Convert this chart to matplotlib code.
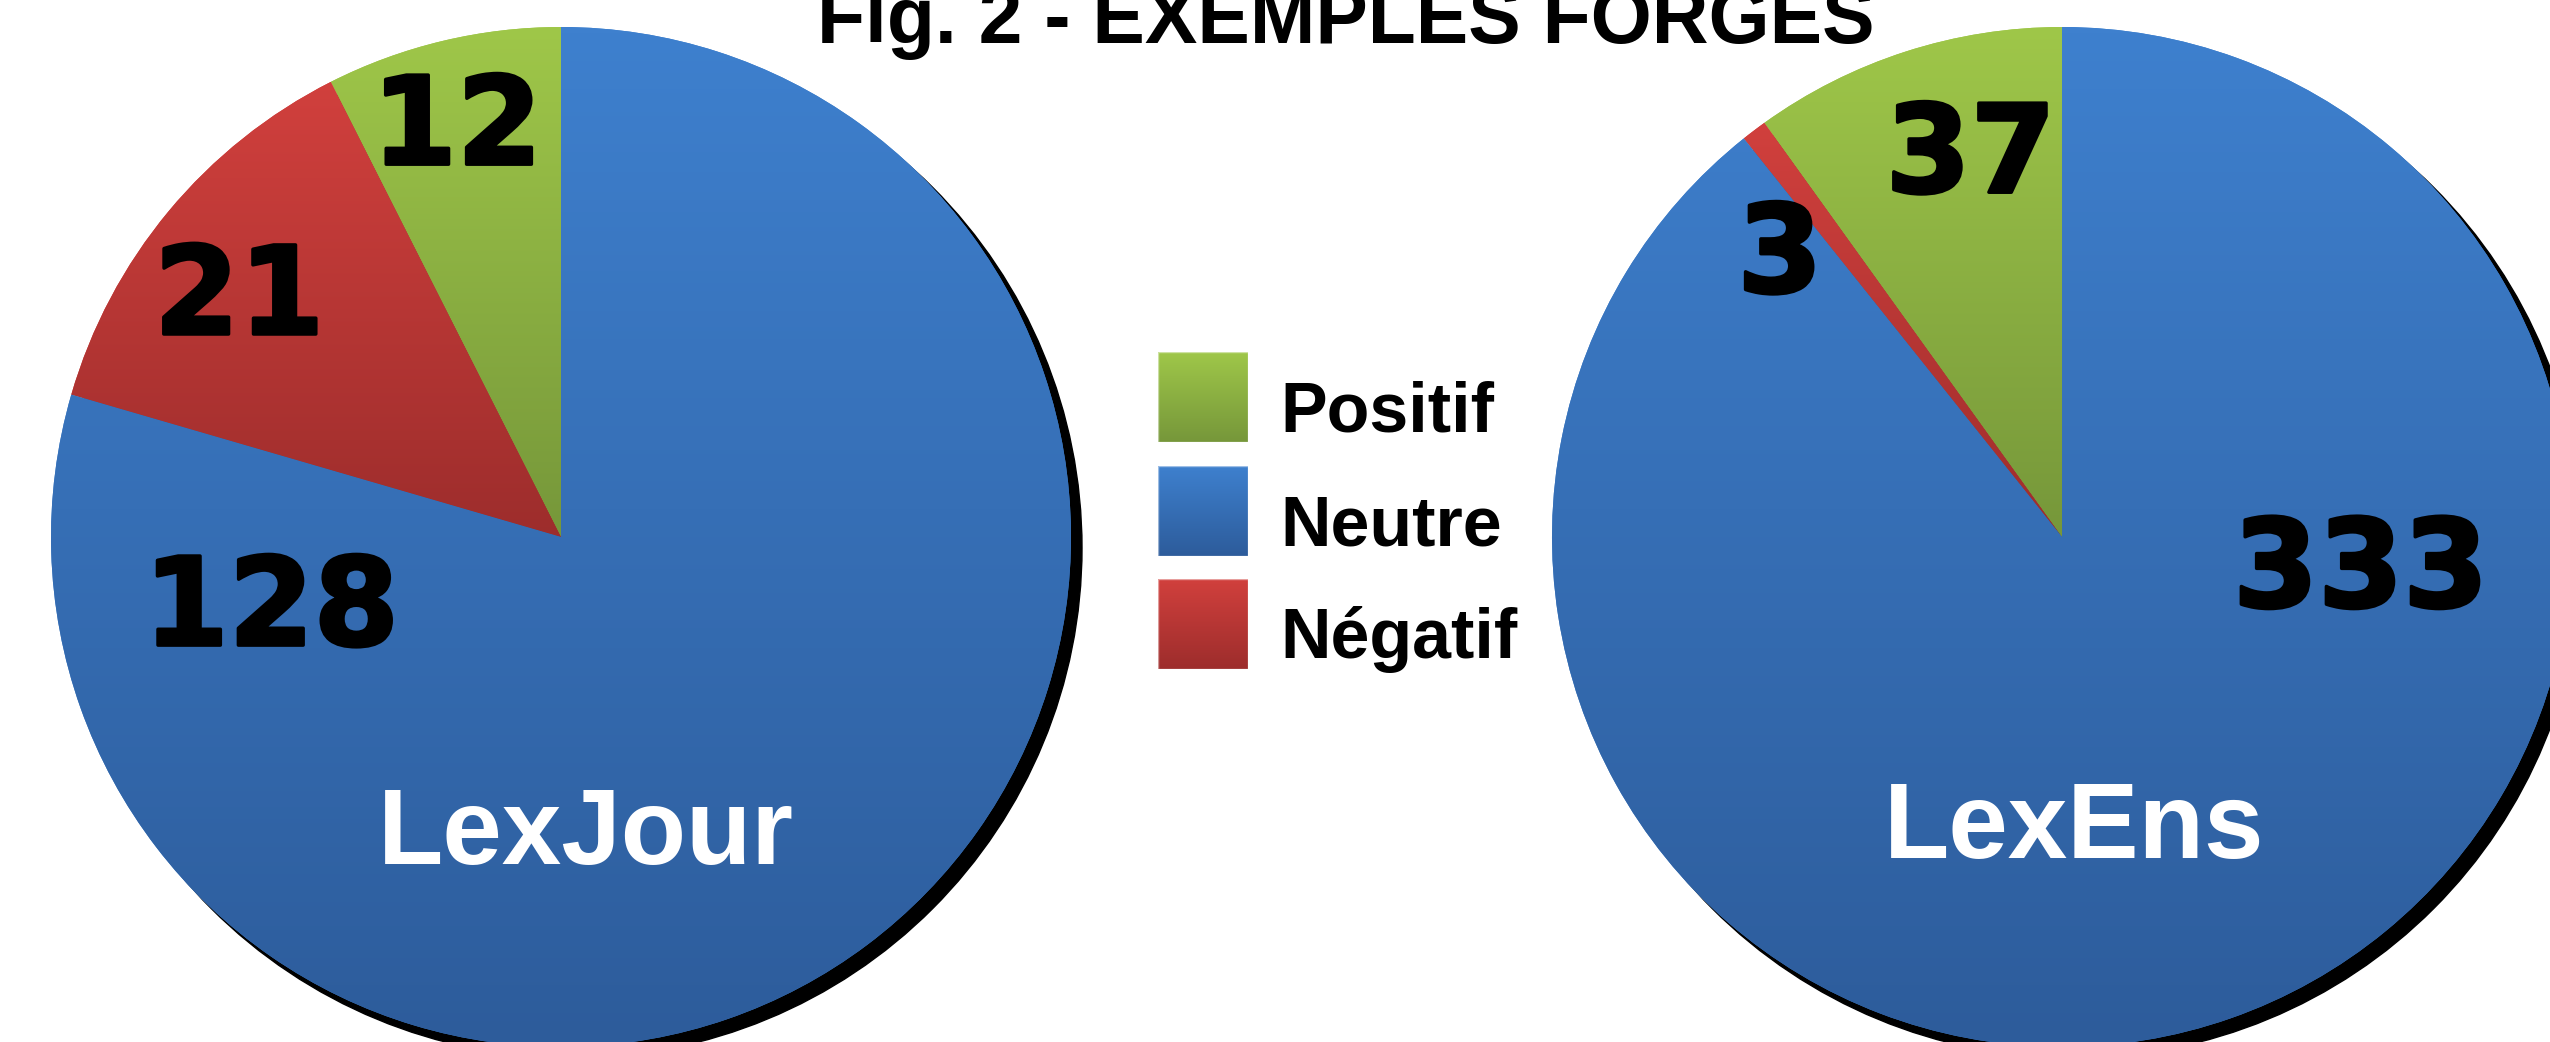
import numpy as np
import matplotlib
matplotlib.use("Agg")
import matplotlib.pyplot as plt
import matplotlib.patheffects as pe
from matplotlib import font_manager
from matplotlib.patches import Circle, Rectangle
from matplotlib.colors import LinearSegmentedColormap

# data
categories = ["Positif", "Négatif", "Neutre"]
lexjour_values = [12, 21, 128]
lexens_values = [37, 3, 333]
pie_names = ["LexJour", "LexEns"]
legend_order = ["Positif", "Neutre", "Négatif"]
title = "Fig. 2 - EXEMPLES FORGES"

# colours (top, bottom) for the vertical gradient of each category
grad_colors = {
    "Positif": ("#9fc749", "#76973a"),
    "Neutre": ("#3e80ce", "#2d5c9b"),
    "Négatif": ("#d1403d", "#9d2d2c"),
}

W, H = 2550, 1042
fig = plt.figure(figsize=(W / 100, H / 100), dpi=100)
fig.patch.set_facecolor("white")

names = {f.name for f in font_manager.fontManager.ttflist}
if "Liberation Sans Narrow" in names:
    narrow_font = "Liberation Sans Narrow"
    narrow_scale = 1.0
else:
    narrow_font = "Liberation Sans"
    narrow_scale = 0.84

R = 510  # pie radius in px
shadow = 11 / R


def gradient_fill(ax, patch, top, bottom, x0, x1, y0, y1, z):
    cmap = LinearSegmentedColormap.from_list("g", [bottom, top])
    grad = np.linspace(0, 1, 256).reshape(-1, 1)
    im = ax.imshow(grad, extent=[x0, x1, y0, y1], origin="lower", cmap=cmap,
                   aspect="auto", interpolation="bilinear", zorder=z)
    im.set_clip_path(patch)
    return im


def draw_pie(cx, cy, values, name, num_pos, name_pos):
    # cx, cy: pie centre in px from the top-left corner
    ax = fig.add_axes([(cx - R) / W, (H - cy - R) / H, 2 * R / W, 2 * R / H])
    ax.add_patch(Circle((shadow, -shadow), 1.0, color="black", zorder=0, clip_on=False))
    cols = [grad_colors[c][0] for c in categories]
    wedges, _ = ax.pie(values, colors=cols, startangle=90, counterclock=True,
                       radius=1.0, wedgeprops=dict(linewidth=0))
    for w, cat in zip(wedges, categories):
        w.set_zorder(1)
        ext = w.get_path().get_extents()
        top, bot = grad_colors[cat]
        gradient_fill(ax, w, top, bot, ext.x0, ext.x1, ext.y0, ext.y1, 2)
    for v, (x, y) in zip(values, num_pos):
        ax.text(x, y, str(v), ha="center", va="baseline", fontsize=88,
                fontweight="bold", family="DejaVu Sans", color="black", zorder=5,
                path_effects=[pe.withStroke(linewidth=2.5, foreground="black")])
    ax.text(name_pos[0], name_pos[1], name, ha="center", va="baseline", fontsize=77,
            fontweight="bold", family="Liberation Sans", color="white", zorder=5)
    ax.set_xlim(-1, 1)
    ax.set_ylim(-1, 1)
    ax.set_aspect("auto")
    ax.axis("off")
    return ax


draw_pie(561, 537, lexjour_values, pie_names[0],
         [(-0.204, 0.731), (-0.631, 0.398), (-0.568, -0.212)], (0.049, -0.641))
draw_pie(2062, 537, lexens_values, pie_names[1],
         [(-0.179, 0.676), (-0.553, 0.480), (0.586, -0.137)], (0.024, -0.629))

# legend
lax = fig.add_axes([0, 0, 1, 1])
lax.set_xlim(0, W)
lax.set_ylim(H, 0)
lax.axis("off")
lax.patch.set_alpha(0)
sq_x, sq_size = 1158, 90
sq_tops = [352, 466, 579]
for cat, top_y in zip(legend_order, sq_tops):
    top, bot = grad_colors[cat]
    rect = Rectangle((sq_x, top_y), sq_size, sq_size, facecolor=top,
                     edgecolor="none", zorder=1)
    lax.add_patch(rect)
    cmap = LinearSegmentedColormap.from_list("g", [top, bot])
    im = lax.imshow(np.linspace(0, 1, 256).reshape(-1, 1),
                    extent=[sq_x, sq_x + sq_size, top_y + sq_size, top_y],
                    origin="upper", cmap=cmap, aspect="auto", zorder=2)
    im.set_clip_path(rect)
    lax.add_patch(Rectangle((sq_x, top_y), sq_size, sq_size, facecolor="none",
                            edgecolor="white", linewidth=1.0, alpha=0.5, zorder=3))
    lax.text(1280, top_y + 79, cat, ha="left", va="baseline",
             fontsize=60 * narrow_scale, fontweight="bold", family=narrow_font)
lax.set_xlim(0, W)
lax.set_ylim(H, 0)

fig.text(1346 / W, (H - 43) / H, title, ha="center", va="baseline",
         fontsize=69 * 0.82 if narrow_scale < 1 else 69, fontweight="bold",
         family=narrow_font)

fig.savefig("out.png", dpi=100)
